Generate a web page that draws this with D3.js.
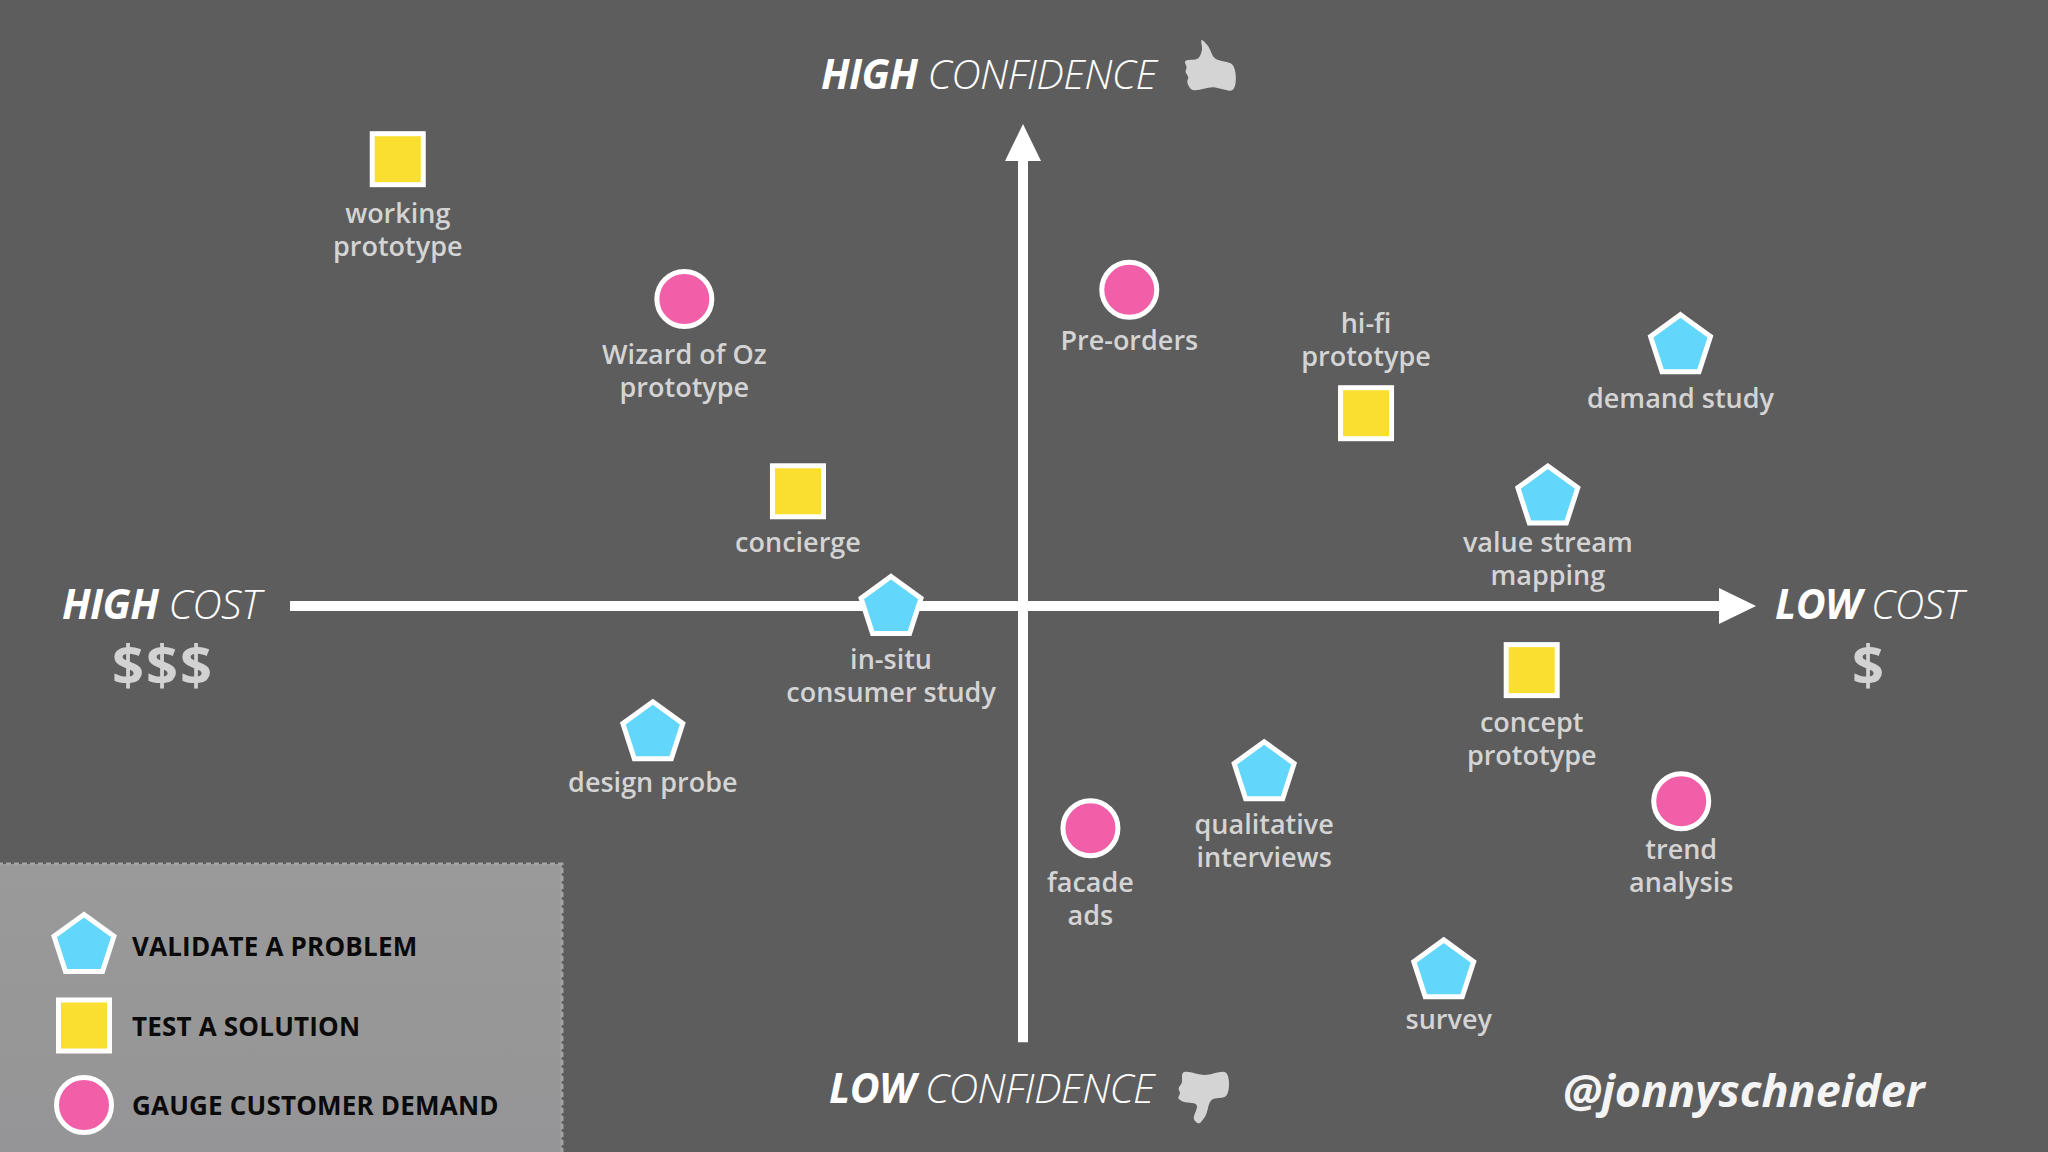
<!DOCTYPE html>
<html>
<head>
<meta charset="utf-8">
<script src="https://cdn.jsdelivr.net/npm/d3@7"></script>
<style>
  html, body { margin: 0; padding: 0; background: #5d5d5e; }
  svg { display: block; }
  text { font-family: "Open Sans", sans-serif; }
</style>
</head>
<body>
<svg id="chart" width="2048" height="1152"></svg>
<script>
// confidence: -100 = low, 100 = high.
var names = [
  ["working", "prototype"], ["Wizard of Oz", "prototype"], ["concierge"],
  ["Pre-orders"], ["hi-fi", "prototype"], ["demand study"],
  ["value stream", "mapping"], ["in-situ", "consumer study"], ["design probe"],
  ["concept", "prototype"], ["qualitative", "interviews"], ["facade", "ads"],
  ["trend", "analysis"], ["survey"]
];
var costs = [-85.3, -46.2, -30.7, 14.5, 46.8, 89.7, 71.6, -18.0, -50.5, 69.4, 32.9, 9.2, 89.8, 57.4];
var confidences = [92.7, 63.7, 23.8, 65.6, 40.0, 53.9, 22.5, -0.4, -26.4, -13.3, -34.7, -46.1, -40.5, -75.8];
var kinds = ["test", "gauge", "test", "gauge", "test", "validate", "validate", "validate",
  "validate", "test", "validate", "gauge", "gauge", "validate"];
var labelAbove = ["hi-fi"];

var legendKinds = ["validate", "test", "gauge"];
var legendLabels = ["VALIDATE A PROBLEM", "TEST A SOLUTION", "GAUGE CUSTOMER DEMAND"];
var kindColors = { validate: "#62d6fb", test: "#fbdf30", gauge: "#f15fa9" };

var svg = d3.select("#chart");
var x = d3.scaleLinear().domain([-100, 100]).range([290, 1756]);
var y = d3.scaleLinear().domain([-100, 100]).range([1088, 124]);

// the reference labels are placed by hand, so a few sit off the common offset
var labelNudge = {
  "Pre-orders": [0, -2], "value stream": [0, -8], "trend": [0, -4], "survey": [5, -4],
  "Wizard of Oz": [0, 3], "working": [0, 2], "facade": [0, 2], "concierge": [0, -1],
  "demand study": [0, 0], "design probe": [0, -3], "in-situ": [0, -1], "qualitative": [0, -1],
  "hi-fi": [0, 1]
};

var bg = svg.append("defs").append("linearGradient")
  .attr("id", "panel").attr("x1", 0).attr("x2", 0).attr("y1", 0).attr("y2", 1);
bg.append("stop").attr("offset", 0).attr("stop-color", "#9a9a9a");
bg.append("stop").attr("offset", 1).attr("stop-color", "#959496");

svg.append("rect").attr("width", 2048).attr("height", 1152).attr("fill", "#5d5d5e");

// axes
function drawAxes() {
  var axes = svg.append("g");
  axes.append("line")
    .attr("x1", x(-100)).attr("x2", x(100) - 30)
    .attr("y1", y(0)).attr("y2", y(0))
    .attr("stroke", "#fff").attr("stroke-width", 10);
  axes.append("line")
    .attr("x1", x(0)).attr("x2", x(0))
    .attr("y1", y(-90.5)).attr("y2", y(100) + 30)
    .attr("stroke", "#fff").attr("stroke-width", 10);
  axes.append("path")
    .attr("d", d3.line()([[x(100), y(0)], [x(100) - 37, y(0) - 18], [x(100) - 37, y(0) + 18]]) + "Z")
    .attr("fill", "#fff");
  axes.append("path")
    .attr("d", d3.line()([[x(0), y(100)], [x(0) - 18, y(100) + 37], [x(0) + 18, y(100) + 37]]) + "Z")
    .attr("fill", "#fff");
}
drawAxes();

function pentagonPath(r) {
  var pts = d3.range(5).map(function (i) { return [i * 2 * Math.PI / 5, r]; });
  return d3.lineRadial().curve(d3.curveLinearClosed)(pts);
}

// adds one marker of the given kind to a selection
function addMark(g, kind) {
  var s;
  if (kind === "validate") {
    s = g.append("path").attr("d", pentagonPath(31.5));
  } else if (kind === "test") {
    s = g.append("rect").attr("x", -25.5).attr("y", -25.5).attr("width", 51).attr("height", 51);
  } else {
    s = g.append("circle").attr("r", 27.5);
  }
  s.attr("fill", kindColors[kind]).attr("stroke", "#fff").attr("stroke-width", 5);
}

names.forEach(function (lines, i) {
  var g = svg.append("g").attr("transform", "translate(" + x(costs[i]) + "," + y(confidences[i]) + ")");
  addMark(g, kinds[i]);
  var above = labelAbove.indexOf(lines[0]) >= 0;
  var first = above ? -48 - (lines.length - 1) * 33 : 62;
  var nudge = labelNudge[lines[0]] || [0, 0];
  lines.forEach(function (t, j) {
    g.append("text")
      .attr("x", nudge[0])
      .attr("y", first + nudge[1] + j * 33)
      .attr("text-anchor", "middle")
      .attr("font-size", 27)
      .attr("font-weight", 600)
      .attr("fill", "#d4d4d4")
      .text(t);
  });
});

// axis titles
var titles = [
  { bold: "HIGH", light: "CONFIDENCE", x: 821, y: 89 },
  { bold: "LOW", light: "CONFIDENCE", x: 829, y: 1103 },
  { bold: "HIGH", light: "COST", x: 62, y: 619 },
  { bold: "LOW", light: "COST", x: 1775, y: 619 }
];
titles.forEach(function (t) {
  var el = svg.append("text").attr("x", t.x).attr("y", t.y)
    .attr("font-size", 41).attr("font-style", "italic").attr("fill", "#fff")
    .attr("letter-spacing", -0.6);
  el.append("tspan").attr("font-weight", 700).text(t.bold + " ");
  el.append("tspan").attr("font-weight", 300).text(t.light);
});

svg.append("text").attr("x", 163).attr("y", 685).attr("text-anchor", "middle")
  .attr("font-size", 56).attr("font-weight", 700).attr("letter-spacing", 2)
  .attr("fill", "#d2d2d2").text("$$$");
svg.append("text").attr("x", 1868).attr("y", 685).attr("text-anchor", "middle")
  .attr("font-size", 56).attr("font-weight", 700)
  .attr("fill", "#d2d2d2").text("$");

// thumbs, traced by hand
var thumbUp = [[1205, 30], [1222, 45], [1245, 85], [1298, 105], [1298, 180], [1240, 172], [1172, 176],
  [1162, 155], [1165, 142], [1157, 125], [1160, 112], [1155, 95], [1195, 85], [1206, 60]];
var thumbDown = [[1278, 98], [1278, 168], [1235, 180], [1215, 230], [1195, 250], [1183, 240], [1190, 195],
  [1145, 183], [1135, 175], [1140, 160], [1136, 145], [1145, 130], [1148, 100], [1215, 105]];
svg.append("path").attr("transform", "translate(800,30) scale(0.3333)")
  .attr("d", d3.line().curve(d3.curveCatmullRomClosed.alpha(0.9))(thumbUp)).attr("fill", "#d4d4d4");
svg.append("path").attr("transform", "translate(800,1040) scale(0.3333)")
  .attr("d", d3.line().curve(d3.curveCatmullRomClosed.alpha(0.9))(thumbDown)).attr("fill", "#d4d4d4");

// legend
svg.append("rect").attr("x", -10).attr("y", 864).attr("width", 572).attr("height", 300)
  .attr("fill", "url(#panel)").attr("stroke", "#a4a4a4").attr("stroke-width", 3)
  .attr("stroke-dasharray", "5 3");
var legendY = d3.scalePoint().domain(legendKinds).range([946, 1105]);
legendKinds.forEach(function (k, i) {
  var g = svg.append("g").attr("transform", "translate(84," + legendY(k) + ")");
  addMark(g, k);
  g.append("text").attr("x", 48).attr("y", 10)
    .attr("font-size", 26).attr("font-weight", 700).attr("letter-spacing", 0.2).attr("fill", "#0a0a0a")
    .text(legendLabels[i]);
});

svg.append("text").attr("x", 1563).attr("y", 1107)
  .attr("font-size", 44.9).attr("font-weight", 700).attr("font-style", "italic")
  .attr("fill", "#f4f4f4").text("@jonnyschneider");
</script>
</body>
</html>
